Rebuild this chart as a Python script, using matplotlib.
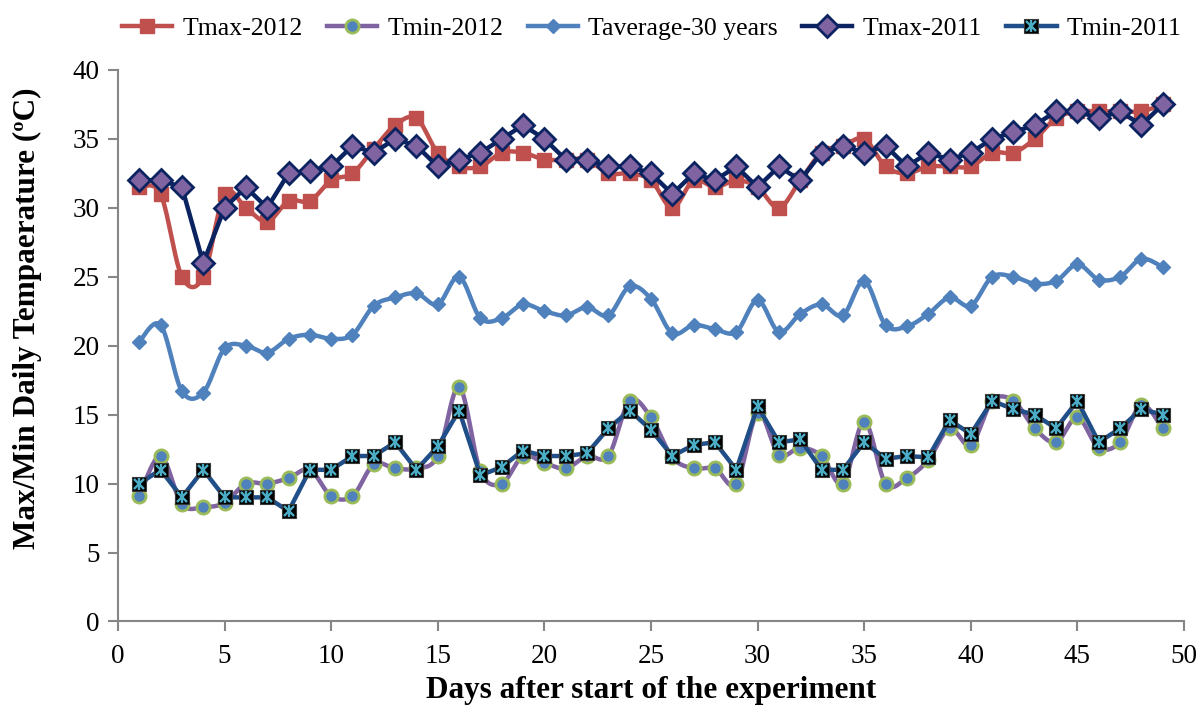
import numpy as np
import matplotlib
matplotlib.use("Agg")
import matplotlib.pyplot as plt
from matplotlib.lines import Line2D
from matplotlib.legend_handler import HandlerTuple

plt.rcParams['font.family'] = ['Liberation Serif', 'DejaVu Serif']

days = list(range(1, 50))

tmax_2012 = [31.5, 31.0, 25.0, 25.0, 31.0, 30.0, 29.0, 30.5, 30.5, 32.0,
             32.5, 34.3, 36.0, 36.5, 34.0, 33.0, 33.0, 34.0, 34.0, 33.5,
             33.5, 33.5, 32.5, 32.5, 32.0, 30.0, 32.0, 31.5, 32.0, 31.5,
             30.0, 32.0, 34.0, 34.5, 35.0, 33.0, 32.5, 33.0, 33.0, 33.0,
             34.0, 34.0, 35.0, 36.5, 37.0, 37.0, 37.0, 37.0, 37.5]

tmin_2012 = [9.1, 12.0, 8.5, 8.3, 8.6, 10.0, 10.0, 10.4, 11.0, 9.1,
             9.1, 11.4, 11.1, 11.1, 12.0, 17.0, 10.9, 10.0, 12.0, 11.5,
             11.1, 12.0, 12.0, 16.0, 14.8, 11.9, 11.1, 11.1, 10.0, 15.1,
             12.1, 12.6, 12.0, 10.0, 14.5, 10.0, 10.4, 11.7, 14.0, 12.8,
             16.0, 16.0, 14.0, 13.0, 14.8, 12.6, 13.0, 15.7, 14.0]

tavg_30y = [20.3, 21.5, 16.7, 16.6, 19.8, 20.0, 19.5, 20.5, 20.8, 20.5,
            20.8, 22.9, 23.5, 23.8, 23.0, 25.0, 22.0, 22.0, 23.0, 22.5,
            22.2, 22.8, 22.2, 24.3, 23.4, 20.9, 21.5, 21.2, 21.0, 23.3,
            21.0, 22.3, 23.0, 22.2, 24.7, 21.5, 21.4, 22.3, 23.5, 22.9,
            25.0, 25.0, 24.5, 24.7, 25.9, 24.8, 25.0, 26.3, 25.7]

tmax_2011 = [32.0, 32.0, 31.5, 26.0, 30.0, 31.5, 30.0, 32.5, 32.7, 33.0,
             34.5, 34.0, 35.0, 34.5, 33.0, 33.5, 34.0, 35.0, 36.0, 35.0,
             33.5, 33.5, 33.0, 33.0, 32.5, 31.0, 32.5, 32.0, 33.0, 31.5,
             33.0, 32.0, 34.0, 34.5, 34.0, 34.5, 33.0, 34.0, 33.5, 34.0,
             35.0, 35.5, 36.0, 37.0, 37.0, 36.5, 37.0, 36.0, 37.5]

tmin_2011 = [10.0, 11.0, 9.0, 11.0, 9.0, 9.0, 9.0, 8.0, 11.0, 11.0,
             12.0, 12.0, 13.0, 11.0, 12.7, 15.3, 10.6, 11.2, 12.4, 12.0,
             12.0, 12.2, 14.0, 15.3, 13.9, 12.0, 12.8, 13.0, 11.0, 15.6,
             13.0, 13.2, 11.0, 11.0, 13.0, 11.8, 12.0, 11.9, 14.6, 13.6,
             16.0, 15.4, 15.0, 14.0, 16.0, 13.0, 14.0, 15.4, 15.0]

series_names = ["Tmax-2012", "Tmin-2012", "Taverage-30 years", "Tmax-2011", "Tmin-2011"]


def smooth_path(x, y, steps=24):
    """Bezier smoothing through every point (Catmull-Rom style control points)."""
    p = np.column_stack([np.asarray(x, float), np.asarray(y, float)])
    n = len(p)
    out = [p[0]]
    t = np.linspace(0, 1, steps)[1:, None]
    for i in range(n - 1):
        p0 = p[i - 1] if i > 0 else p[i]
        p1, p2 = p[i], p[i + 1]
        p3 = p[i + 2] if i + 2 < n else p[i + 1]
        c1 = p1 + (p2 - p0) / 6.0
        c2 = p2 - (p3 - p1) / 6.0
        seg = ((1 - t) ** 3) * p1 + 3 * ((1 - t) ** 2) * t * c1 \
            + 3 * (1 - t) * t ** 2 * c2 + t ** 3 * p2
        out.extend(seg)
    out = np.array(out)
    return out[:, 0], out[:, 1]


fig = plt.figure(figsize=(12, 7.07), dpi=100)
ax = fig.add_axes([0.0983, 0.121, 0.8884, 0.780])

lw = 3.2
c_red = "#C0504D"
c_purple = "#8064A2"
c_blue = "#4F81BD"
c_navy = "#0B2461"
c_dblue = "#1F4E88"
c_green = "#9BBB59"
c_cyan = "#4BACC6"

# Tmax-2012
sx, sy = smooth_path(days, tmax_2012)
ax.plot(sx, sy, color=c_red, lw=lw, zorder=2)
ax.plot(days, tmax_2012, ls="none", marker="s", ms=10.5, mfc=c_red, mec=c_red, zorder=2.1)

# Tmin-2012
sx, sy = smooth_path(days, tmin_2012)
ax.plot(sx, sy, color=c_purple, lw=lw, zorder=3)
ax.plot(days, tmin_2012, ls="none", marker="o", ms=9.5, mfc=c_blue, mec=c_green, mew=2, zorder=3.1)

# Taverage-30 years
sx, sy = smooth_path(days, tavg_30y)
ax.plot(sx, sy, color=c_blue, lw=lw, zorder=4)
ax.plot(days, tavg_30y, ls="none", marker="D", ms=7.5, mfc=c_blue, mec=c_blue, zorder=4.1)

# Tmax-2011
ax.plot(days, tmax_2011, color=c_navy, lw=lw, marker="D", ms=11.5, mfc=c_purple,
        mec=c_navy, mew=2, zorder=5)

# Tmin-2011
ax.plot(days, tmin_2011, color=c_dblue, lw=lw, marker="s", ms=10, mfc="black",
        mec="#3a3a3a", mew=0.8, zorder=6)
ax.plot(days, tmin_2011, ls="none", marker="x", ms=6.5, mec=c_cyan, mew=1.7, zorder=6.1)
ax.plot(days, tmin_2011, ls="none", marker="|", ms=8, mec=c_cyan, mew=1.7, zorder=6.2)

ax.set_xlim(0, 50)
ax.set_ylim(0, 40)
ax.set_xticks(range(0, 51, 5))
ax.set_yticks(range(0, 41, 5))

for side in ("top", "right"):
    ax.spines[side].set_visible(False)
for side in ("left", "bottom"):
    ax.spines[side].set_color("#868686")
    ax.spines[side].set_linewidth(1.5)
ax.tick_params(axis="both", direction="out", length=7, width=1.5, color="#868686",
               labelsize=19.5, pad=6)
ax.tick_params(axis="x", pad=9)

ax.set_xlabel("Days after start of the experiment", fontsize=22.5, fontweight="bold", labelpad=5.5)
ax.set_ylabel("Max/Min Daily Tempaerature (ºC)", fontsize=22.5, fontweight="bold")
ax.yaxis.set_label_coords(-0.071, 0.549)

# Legend handles
h1 = Line2D([], [], color=c_red, lw=lw, marker="s", ms=10.5, mfc=c_red, mec=c_red)
h2 = Line2D([], [], color=c_purple, lw=lw, marker="o", ms=9.5, mfc=c_blue, mec=c_green, mew=2)
h3 = Line2D([], [], color=c_blue, lw=lw, marker="D", ms=7.5, mfc=c_blue, mec=c_blue)
h4 = Line2D([], [], color=c_navy, lw=lw, marker="D", ms=11.5, mfc=c_purple, mec=c_navy, mew=2)
h5a = Line2D([], [], color=c_dblue, lw=lw, marker="s", ms=10, mfc="black", mec="#3a3a3a", mew=0.8)
h5b = Line2D([], [], ls="none", marker="x", ms=6.5, mec=c_cyan, mew=1.7)
h5c = Line2D([], [], ls="none", marker="|", ms=8, mec=c_cyan, mew=1.7)

fig.legend([h1, h2, h3, h4, (h5a, h5b, h5c)], series_names,
           handler_map={tuple: HandlerTuple(ndivide=1, pad=0)},
           loc="center", bbox_to_anchor=(0.5433, 0.960), ncol=5, frameon=False,
           fontsize=18.5, handlelength=1.95, handletextpad=0.4, columnspacing=0.95,
           numpoints=1, borderpad=0, borderaxespad=0)

fig.savefig("out.png", dpi=100)
